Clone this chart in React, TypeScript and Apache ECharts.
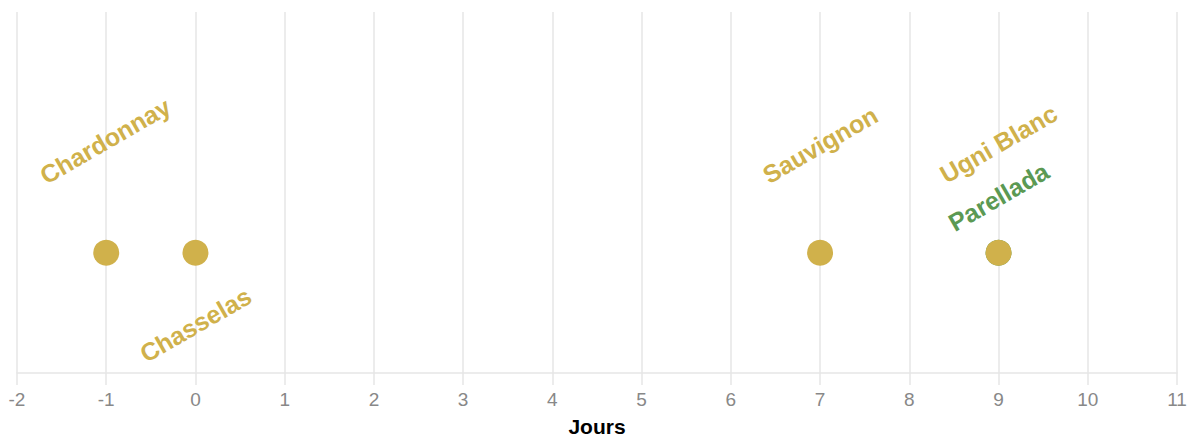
import React, { useEffect, useRef } from "react";
import * as echarts from "echarts";

const varieties = ["Chardonnay", "Chasselas", "Sauvignon", "Ugni Blanc", "Parellada"];
const days = [-1, 0, 7, 9, 9];
const groups = ["blanc", "blanc", "blanc", "blanc", "espagnol"];
const xMin = -2;
const xMax = 11;

// styling: label centre offsets (screen px) relative to the point
const labelOffsets: [number, number][] = [
  [-1, -112],
  [0, 72],
  [0, -108],
  [0, -109],
  [0, -56],
];

const GOLD = "#D0B14B";
const GREEN = "#5B9953";
const ROT = 30;
const FONT = "Liberation Sans, Arial, sans-serif";

export default function App() {
  const ref = useRef<HTMLDivElement>(null);
  useEffect(() => {
    if (!ref.current) return;
    const chart = echarts.init(ref.current, null, { renderer: "svg" });
    const order = [4, 0, 1, 2, 3];
    const data = order.map((i) => ({
      value: [days[i], 0],
      name: varieties[i],
      itemStyle: { color: groups[i] === "espagnol" ? GREEN : GOLD, opacity: 1 },
      label: {
        show: true,
        formatter: varieties[i],
        position: "inside",
        color: groups[i] === "espagnol" ? GREEN : GOLD,
        fontSize: 25,
        fontWeight: "bold",
        fontFamily: FONT,
      },
    }));
    chart.setOption({
      animation: false,
      grid: {
        left: 17,
        right: 11,
        top: 12,
        bottom: 65,
        containLabel: false,
        outerBoundsMode: "none",
      },
      xAxis: {
        type: "value",
        min: xMin,
        max: xMax,
        interval: 1,
        name: "Jours",
        nameLocation: "middle",
        nameGap: 43,
        nameTextStyle: {
          color: "#000",
          fontSize: 21,
          fontWeight: "bold",
          fontFamily: FONT,
        },
        axisLine: { show: true, onZero: false, lineStyle: { color: "#e6e6e6", width: 1.5 } },
        axisTick: { show: true, length: 12, lineStyle: { color: "#e6e6e6", width: 1.5 } },
        axisLabel: {
          color: "#888888",
          fontSize: 19,
          margin: 17,
          fontFamily: FONT,
        },
        splitLine: { show: true, lineStyle: { color: "#e6e6e6", width: 1.5 } },
      },
      yAxis: {
        type: "value",
        min: -1,
        max: 2,
        show: false,
        splitLine: { show: false },
      },
      series: [
        {
          type: "scatter",
          symbolSize: 26,
          itemStyle: { opacity: 1 },
          data,
          labelLayout: (p: any) => {
            const i = order[p.dataIndex];
            const [dx, dy] = labelOffsets[i];
            return {
              x: p.rect.x + p.rect.width / 2 + dx,
              y: p.rect.y + p.rect.height / 2 + dy,
              rotate: ROT,
              align: "center",
              verticalAlign: "middle",
              hideOverlap: false,
            };
          },
        },
      ],
    });
    return () => chart.dispose();
  }, []);
  return (
    <div
      ref={ref}
      style={{ position: "absolute", left: 0, top: 0, width: 1188, height: 438 }}
    />
  );
}
